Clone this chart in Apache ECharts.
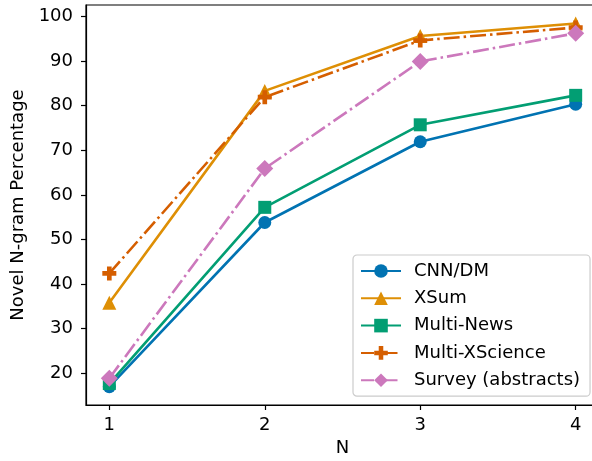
<!DOCTYPE html>
<html>
<head>
<meta charset="utf-8">
<script src="https://cdn.jsdelivr.net/npm/echarts@6/dist/echarts.min.js"></script>
<style>html,body{margin:0;padding:0;background:#fff;}#c{width:592px;height:461px;}</style>
</head>
<body>
<div id="c"></div>
<script>
const nValues = [1, 2, 3, 4];
const xTicks = [1, 2, 3, 4];
const yTicks = [20, 30, 40, 50, 60, 70, 80, 90, 100];
const cnnDm = [17.0, 53.8, 71.9, 80.3];
const xsum = [35.8, 83.3, 95.6, 98.4];
const multiNews = [17.7, 57.2, 75.7, 82.3];
const multiXScience = [42.4, 81.9, 94.6, 97.5];
const survey = [18.9, 65.9, 89.9, 96.2];

const FONT = 'DejaVu Sans';
const plusPath = 'path://M-1,-3H1V-1H3V1H1V3H-1V1H-3V-1H-1Z';
const dashDot = [16, 4, 2.5, 4];
const legendDash = [13, 4, 2.5, 4];

function mk(name, vals, color, symbol, size, dashed) {
  return {
    name: name,
    type: 'line',
    data: vals.map((v, i) => [nValues[i], v]),
    symbol: symbol,
    symbolSize: size,
    showSymbol: true,
    itemStyle: { color: color, borderWidth: 0, opacity: 1 },
    lineStyle: { color: color, width: 2.6, type: dashed ? dashDot : 'solid', cap: 'butt' },
    emphasis: { disabled: true },
    animation: false
  };
}

const chart = echarts.init(document.getElementById('c'), null, { renderer: 'canvas' });
chart.setOption({
  animation: false,
  backgroundColor: '#fff',
  grid: { left: 86, top: 5, width: 513, height: 400, show: true, borderColor: '#000', borderWidth: 1.2, backgroundColor: 'transparent', outerBoundsMode: 'none', containLabel: false },
  xAxis: {
    type: 'value', min: 0.85, max: 4.15,
    name: 'N', nameLocation: 'middle', nameGap: 33,
    nameTextStyle: { fontFamily: FONT, fontSize: 18, color: '#000' },
    axisLine: { show: true, lineStyle: { color: '#000', width: 1.2 } },
    axisTick: { show: true, length: 5, inside: false, lineStyle: { color: '#000', width: 1.2 }, customValues: xTicks },
    axisLabel: { fontFamily: FONT, fontSize: 18, color: '#000', margin: 11, customValues: xTicks, formatter: v => String(v) },
    splitLine: { show: false }
  },
  yAxis: {
    type: 'value', min: 12.9, max: 102.55,
    name: 'Novel N-gram Percentage', nameLocation: 'middle', nameGap: 58,
    nameTextStyle: { fontFamily: FONT, fontSize: 18, color: '#000' },
    axisLine: { show: true, lineStyle: { color: '#000', width: 1.2 } },
    axisTick: { show: true, length: 5, inside: false, lineStyle: { color: '#000', width: 1.2 }, customValues: yTicks },
    axisLabel: { fontFamily: FONT, fontSize: 18, color: '#000', margin: 13, customValues: yTicks, formatter: v => String(v) },
    splitLine: { show: false }
  },
  legend: {
    show: true, orient: 'vertical', left: 353, top: 255,
    itemWidth: 40, itemHeight: 17, itemGap: 9.3,
    padding: [7, 10, 7, 7],
    backgroundColor: 'rgba(255,255,255,0.85)',
    borderColor: '#cccccc', borderWidth: 1.2, borderRadius: 4,
    textStyle: { fontFamily: FONT, fontSize: 18, color: '#000', lineHeight: 17, padding: [0, 0, 0, 8] },
    data: [
      { name: 'CNN/DM' },
      { name: 'XSum' },
      { name: 'Multi-News' },
      { name: 'Multi-XScience', lineStyle: { type: legendDash } },
      { name: 'Survey (abstracts)', lineStyle: { type: legendDash } }
    ]
  },
  series: [
    mk('CNN/DM', cnnDm, '#0173b2', 'circle', 13, false),
    mk('XSum', xsum, '#de8f05', 'triangle', 14, false),
    mk('Multi-News', multiNews, '#029e73', 'rect', 13, false),
    mk('Multi-XScience', multiXScience, '#d55e00', plusPath, 14, true),
    mk('Survey (abstracts)', survey, '#cc78bc', 'diamond', 17, true)
  ]
});
</script>
</body>
</html>
